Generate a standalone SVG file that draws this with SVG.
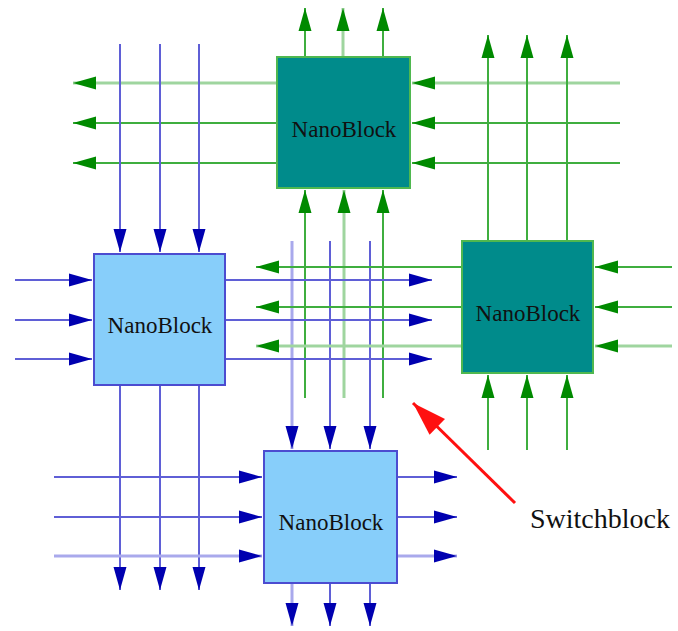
<svg xmlns="http://www.w3.org/2000/svg" width="678" height="631" viewBox="0 0 678 631">
<style>
.g{stroke:#3fae3f;stroke-width:2;fill:none}
.gl{stroke:#9fd59f;stroke-width:3;fill:none}
.b{stroke:#5f5fd6;stroke-width:2;fill:none}
.bl{stroke:#a9a9ec;stroke-width:3;fill:none}
.ga{marker-end:url(#mg)}
.ba{marker-end:url(#mb)}
.teal{fill:#008b8b;stroke:#4fb84f;stroke-width:2}
.sky{fill:#87cefa;stroke:#4c4cd0;stroke-width:2}
.lbl{font-family:"Liberation Serif","Times New Roman",serif;font-size:23px;fill:#111;text-anchor:middle}
</style>
<defs>
<marker id="mg" viewBox="-25 -7 26 14" refX="0" refY="0" markerWidth="26" markerHeight="14" markerUnits="userSpaceOnUse" orient="auto"><path d="M0,0 L-23,-6.5 L-23,6.5 Z" fill="#008a00"/></marker>
<marker id="mb" viewBox="-25 -7 26 14" refX="0" refY="0" markerWidth="26" markerHeight="14" markerUnits="userSpaceOnUse" orient="auto"><path d="M0,0 L-23,-6.5 L-23,6.5 Z" fill="#0000b0"/></marker>
<marker id="mr" viewBox="-36 -12 37 24" refX="0" refY="0" markerWidth="37" markerHeight="24" markerUnits="userSpaceOnUse" orient="auto"><path d="M0,0 L-34,-11 L-34,11 Z" fill="#ff1010"/></marker>
</defs>
<rect width="678" height="631" fill="#fff"/>
<g id="connectors">
<line class="g ga" x1="305" y1="57" x2="305" y2="8"/>
<line class="gl ga" x1="343" y1="57" x2="343" y2="8"/>
<line class="g ga" x1="383" y1="57" x2="383" y2="8"/>
<line class="gl ga" x1="277" y1="83" x2="73" y2="83"/>
<line class="g ga" x1="277" y1="123" x2="73" y2="123"/>
<line class="g ga" x1="277" y1="163" x2="73" y2="163"/>
<line class="gl ga" x1="620" y1="83" x2="412" y2="83"/>
<line class="g ga" x1="620" y1="123" x2="412" y2="123"/>
<line class="g ga" x1="620" y1="163" x2="412" y2="163"/>
<line class="g ga" x1="488" y1="241" x2="488" y2="35"/>
<line class="g ga" x1="527" y1="241" x2="527" y2="35"/>
<line class="g ga" x1="567" y1="241" x2="567" y2="35"/>
<line class="b ba" x1="120" y1="44" x2="120" y2="252"/>
<line class="b ba" x1="160" y1="44" x2="160" y2="252"/>
<line class="b ba" x1="199" y1="44" x2="199" y2="252"/>
<line class="b ba" x1="15" y1="280" x2="92" y2="280"/>
<line class="b ba" x1="15" y1="320" x2="92" y2="320"/>
<line class="b ba" x1="15" y1="359" x2="92" y2="359"/>
<line class="bl ba" x1="292" y1="241" x2="292" y2="449"/>
<line class="b ba" x1="330" y1="241" x2="330" y2="449"/>
<line class="b ba" x1="370" y1="241" x2="370" y2="449"/>
<line class="g ga" x1="305" y1="398" x2="305" y2="190"/>
<line class="gl ga" x1="344" y1="398" x2="344" y2="190"/>
<line class="g ga" x1="383" y1="398" x2="383" y2="190"/>
<line class="g ga" x1="462" y1="267" x2="256" y2="267"/>
<line class="g ga" x1="462" y1="307" x2="256" y2="307"/>
<line class="gl ga" x1="462" y1="346" x2="256" y2="346"/>
<line class="b ba" x1="225" y1="280" x2="432" y2="280"/>
<line class="b ba" x1="225" y1="320" x2="432" y2="320"/>
<line class="b ba" x1="225" y1="359" x2="432" y2="359"/>
<line class="g ga" x1="672" y1="267" x2="595" y2="267"/>
<line class="g ga" x1="672" y1="307" x2="595" y2="307"/>
<line class="gl ga" x1="672" y1="346" x2="595" y2="346"/>
<line class="g ga" x1="488" y1="450" x2="488" y2="375"/>
<line class="g ga" x1="527" y1="450" x2="527" y2="375"/>
<line class="g ga" x1="567" y1="450" x2="567" y2="375"/>
<line class="b ba" x1="120" y1="385" x2="120" y2="590"/>
<line class="b ba" x1="160" y1="385" x2="160" y2="590"/>
<line class="b ba" x1="199" y1="385" x2="199" y2="590"/>
<line class="b ba" x1="54" y1="477" x2="262" y2="477"/>
<line class="b ba" x1="54" y1="517" x2="262" y2="517"/>
<line class="bl ba" x1="54" y1="556" x2="262" y2="556"/>
<line class="b ba" x1="397" y1="477" x2="457" y2="477"/>
<line class="b ba" x1="397" y1="517" x2="457" y2="517"/>
<line class="bl ba" x1="397" y1="556" x2="457" y2="556"/>
<line class="bl ba" x1="292" y1="583" x2="292" y2="626"/>
<line class="b ba" x1="330" y1="583" x2="330" y2="626"/>
<line class="b ba" x1="370" y1="583" x2="370" y2="626"/>
<line x1="515" y1="503" x2="413" y2="403" stroke="#ff1010" stroke-width="3" marker-end="url(#mr)"/>
</g>
<g id="nb-top">
<rect class="teal" x="277" y="57" width="133" height="131"/>
<text class="lbl" x="344" y="137">NanoBlock</text>
</g>
<g id="nb-right">
<rect class="teal" x="462" y="241" width="131" height="132"/>
<text class="lbl" x="528" y="321">NanoBlock</text>
</g>
<g id="nb-left">
<rect class="sky" x="94" y="254" width="131" height="131"/>
<text class="lbl" x="160" y="333">NanoBlock</text>
</g>
<g id="nb-bottom">
<rect class="sky" x="264" y="451" width="133" height="132"/>
<text class="lbl" x="331" y="530">NanoBlock</text>
</g>
<g id="switchblock-label">
<text x="530" y="528" font-family="'Liberation Serif','Times New Roman',serif" font-size="28" fill="#111">Switchblock</text>
</g>
</svg>
